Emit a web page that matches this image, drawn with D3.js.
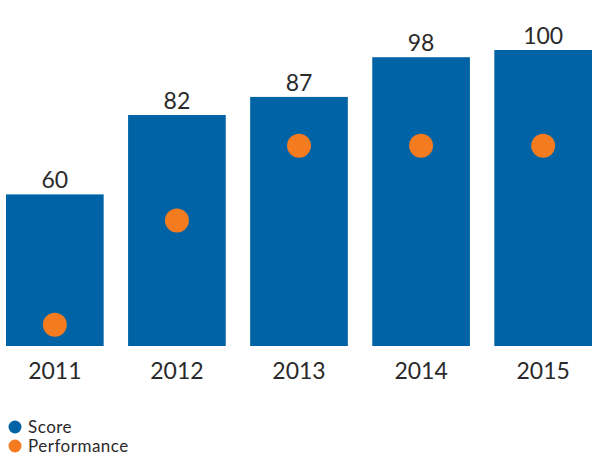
<!DOCTYPE html>
<html>
<head>
<meta charset="utf-8">
<script src="https://cdn.jsdelivr.net/npm/d3@7"></script>
<style>
  html, body { margin: 0; padding: 0; background: #fff; }
  svg { display: block; }
  text { font-family: Lato, "Noto Sans", sans-serif; fill: #2a2a2a; }
</style>
</head>
<body>
<svg width="595" height="455"></svg>
<script>
// Chart data
// ----------
var years = ['2011', '2012', '2013', '2014', '2015'];
var score = [60, 82, 87, 98, 100];
var performance = [8, 47, 75, 75, 75];

var legendItems = ['Score', 'Performance'];
var colors = ['#0063a6', '#f47b20'];

var svg = d3.select('svg');
var baseline = 346;

// Scales
// ------
var x = d3.scaleBand()
  .domain(years)
  .range([6, 592])
  .paddingInner(0.2)
  .paddingOuter(0);

var y = d3.scaleLinear()
  .domain([18, 100])
  .range([baseline, 50]);

var yPerf = d3.scaleLinear()
  .domain([0, 100])
  .range([baseline, 79]);

// Score bars
// ----------
svg.selectAll('rect.bar')
  .data(years)
  .enter().append('rect')
  .attr('class', 'bar')
  .attr('x', function (d) { return x(d); })
  .attr('y', function (d, i) { return y(score[i]); })
  .attr('width', x.bandwidth())
  .attr('height', function (d, i) { return baseline - y(score[i]); })
  .style('fill', colors[0]);

// Value labels
svg.selectAll('text.value')
  .data(years)
  .enter().append('text')
  .attr('class', 'value')
  .attr('x', function (d) { return x(d) + x.bandwidth() / 2; })
  .attr('y', function (d, i) { return y(score[i]) - 6; })
  .attr('text-anchor', 'middle')
  .attr('font-size', '23px')
  .text(function (d, i) { return score[i]; });

// Performance dots
// ----------------
svg.selectAll('circle.perf')
  .data(years)
  .enter().append('circle')
  .attr('class', 'perf')
  .attr('cx', function (d) { return x(d) + x.bandwidth() / 2; })
  .attr('cy', function (d, i) { return yPerf(performance[i]); })
  .attr('r', 12)
  .style('fill', colors[1]);

// Year axis (no line, labels only)
var axis = svg.append('g')
  .attr('transform', 'translate(0,' + baseline + ')')
  .call(d3.axisBottom(x).tickSize(0).tickPadding(17));
axis.select('.domain').remove();
axis.selectAll('text')
  .attr('font-size', '23px')
  .attr('font-family', 'Lato, "Noto Sans", sans-serif')
  .style('fill', '#2a2a2a');

// Legend
// ------
var legend = svg.selectAll('g.legend')
  .data(legendItems)
  .enter().append('g')
  .attr('class', 'legend')
  .attr('transform', function (d, i) { return 'translate(15,' + (427 + i * 19) + ')'; });

legend.append('circle')
  .attr('r', 6.5)
  .style('fill', function (d, i) { return colors[i]; });

legend.append('text')
  .attr('x', 13)
  .attr('dy', '0.35em')
  .attr('font-size', '17px')
  .attr('letter-spacing', '0.5px')
  .text(function (d) { return d; });
</script>
</body>
</html>
